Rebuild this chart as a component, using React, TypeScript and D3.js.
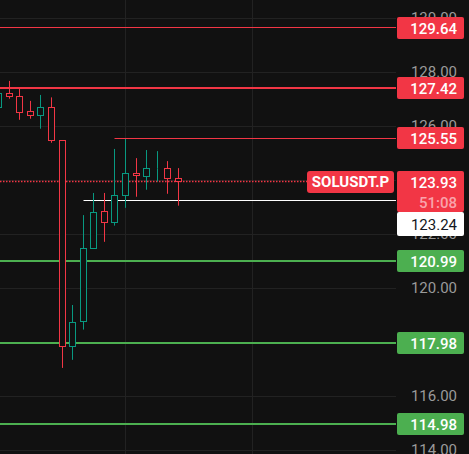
import React from "react";
import * as d3 from "d3";

// ---- data ----
const candleOpen = [126.70, 127.19, 127.11, 126.54, 126.40, 126.69, 125.47, 117.84, 118.77, 121.47, 122.85, 122.43, 123.43, 124.25, 124.14, 124.43, 124.43, 124.06];
const candleHigh = [127.30, 127.67, 127.42, 126.93, 127.15, 127.06, 125.47, 119.37, 122.70, 123.52, 123.52, 125.15, 125.52, 124.81, 125.11, 125.07, 124.70, 124.44];
const candleLow = [126.60, 127.01, 126.23, 126.27, 125.90, 125.38, 117.04, 117.34, 118.46, 121.47, 121.71, 122.31, 122.97, 123.38, 123.64, 123.94, 123.49, 123.05];
const candleClose = [127.19, 127.10, 126.51, 126.40, 126.69, 125.47, 117.85, 118.73, 121.47, 122.81, 122.43, 123.43, 124.25, 124.15, 124.43, 124.43, 124.06, 123.93];

const priceTicks = [114, 116, 118, 120, 122, 124, 126, 128, 130];
const timeGridIndex = [12, 24];

const levelPrices = [129.64, 127.42, 125.55, 120.99, 117.98, 114.98];
const levelKinds = ["res", "res", "res", "sup", "sup", "sup"];
const levelWidths = [1, 2, 1, 2, 2, 2];
const levelStart = [null, null, 11, null, null, null];

const currentPrice = 123.93;
const countdown = "51:08";
const symbolName = "SOLUSDT.P";
const refPrice = 123.24;
const refStart = 8;

// ---- styles ----
const W = 469;
const H = 454;
const BG = "#111111";
const GRID = "#222222";
const RED = "#f23645";
const GREEN = "#4caf50";
const TEAL = "#089981";
const FONT = "Roboto, 'Liberation Sans', sans-serif";

export default function App() {
  const plotRight = 396;
  const boxX = 397;
  const boxW = 67;
  const textRight = 457;
  const boxH = 22;

  const y = d3.scaleLinear().domain([114, 130]).range([450, 18]);
  const x = d3.scaleLinear().domain([0, 17]).range([-1.3, 178.3]);
  const crisp = (v: number) => Math.round(v - 0.5) + 0.5;
  const bodyW = 6;

  const candles = candleOpen.map((o, i) => ({
    o,
    h: candleHigh[i],
    l: candleLow[i],
    c: candleClose[i],
    i,
  }));

  const curY = y(currentPrice);
  const curBoxTop = Math.round(curY - boxH / 2);
  const curBoxH = 41;
  const refBoxTop = Math.max(Math.round(y(refPrice) - boxH / 2), curBoxTop + curBoxH);
  const refBoxH = 24;

  return (
    <div style={{ position: "absolute", left: 0, top: 0, width: W, height: H }}>
      <svg width={W} height={H} style={{ display: "block", background: BG, fontFamily: FONT }}>
        <rect x={0} y={0} width={W} height={H} fill={BG} />
        {/* grid */}
        {priceTicks.map((t) => (
          <line key={"g" + t} x1={0} x2={plotRight} y1={crisp(y(t))} y2={crisp(y(t))} stroke={GRID} strokeWidth={1} />
        ))}
        {timeGridIndex.map((t) => (
          <line key={"v" + t} x1={crisp(x(t))} x2={crisp(x(t))} y1={0} y2={H} stroke={GRID} strokeWidth={1} />
        ))}

        {/* levels */}
        {levelPrices.map((p, i) => {
          const yy = levelWidths[i] === 2 ? Math.round(y(p)) : crisp(y(p));
          const s = levelStart[i];
          return (
            <line
              key={"l" + p}
              x1={s == null ? 0 : crisp(x(s))}
              x2={plotRight}
              y1={yy}
              y2={yy}
              stroke={levelKinds[i] === "res" ? RED : GREEN}
              strokeWidth={levelWidths[i]}
            />
          );
        })}
        {/* reference white line */}
        <line x1={crisp(x(refStart))} x2={plotRight} y1={crisp(y(refPrice))} y2={crisp(y(refPrice))} stroke="#ffffff" strokeWidth={1} />

        {/* current price dotted */}
        <line x1={0} x2={307} y1={crisp(curY)} y2={crisp(curY)} stroke={RED} strokeWidth={1.4} strokeDasharray="1.5 1.5" />

        {/* candles */}
        {candles.map((d) => {
          const up = d.c >= d.o;
          const col = up ? TEAL : RED;
          const cx = crisp(x(d.i));
          const top = crisp(y(Math.max(d.o, d.c)));
          const bot = crisp(y(Math.min(d.o, d.c)));
          return (
            <g key={"c" + d.i}>
              <line x1={cx} x2={cx} y1={y(d.h)} y2={top} stroke={col} strokeWidth={1} />
              <line x1={cx} x2={cx} y1={bot} y2={y(d.l)} stroke={col} strokeWidth={1} />
              <rect
                x={cx - bodyW / 2}
                y={top}
                width={bodyW}
                height={Math.max(0, bot - top)}
                fill={BG}
                stroke={col}
                strokeWidth={1}
              />
            </g>
          );
        })}

        {/* axis tick labels */}
        {priceTicks.map((t) => (
          <text key={"t" + t} x={textRight} y={y(t)} dy="0.36em" textAnchor="end" fontSize={15} fill="#9a9a9a">
            {t.toFixed(2)}
          </text>
        ))}

        {/* level labels */}
        {levelPrices.map((p, i) => {
          const cy = y(p);
          return (
            <g key={"lb" + p}>
              <rect x={boxX} y={Math.round(cy - boxH / 2)} width={boxW} height={boxH} rx={2} fill={levelKinds[i] === "res" ? RED : GREEN} />
              <text x={textRight} y={Math.round(cy)} dy="0.37em" textAnchor="end" fontSize={15} fontWeight={500} fill="#ffffff">
                {p.toFixed(2)}
              </text>
            </g>
          );
        })}

        {/* current price label + symbol */}
        <rect x={307} y={curBoxTop} width={87} height={boxH} rx={3} fill={RED} />
        <text x={350.5} y={curBoxTop + boxH / 2} dy="0.36em" textAnchor="middle" fontSize={15} fontWeight={700} fill="#ffffff">
          {symbolName}
        </text>
        <rect x={boxX} y={curBoxTop} width={boxW} height={curBoxH} rx={2} fill={RED} />
        <text x={textRight} y={curBoxTop + 11} dy="0.37em" textAnchor="end" fontSize={15} fontWeight={500} fill="#ffffff">
          {currentPrice.toFixed(2)}
        </text>
        <text x={textRight} y={curBoxTop + 31} dy="0.37em" textAnchor="end" fontSize={15} fontWeight={500} fill="#f9a3ab">
          {countdown}
        </text>

        {/* ref label */}
        <rect x={boxX} y={refBoxTop} width={boxW} height={refBoxH} rx={2} fill="#ffffff" />
        <text x={textRight} y={refBoxTop + refBoxH / 2} dy="0.37em" textAnchor="end" fontSize={15} fill="#131722">
          {refPrice.toFixed(2)}
        </text>
      </svg>
    </div>
  );
}
